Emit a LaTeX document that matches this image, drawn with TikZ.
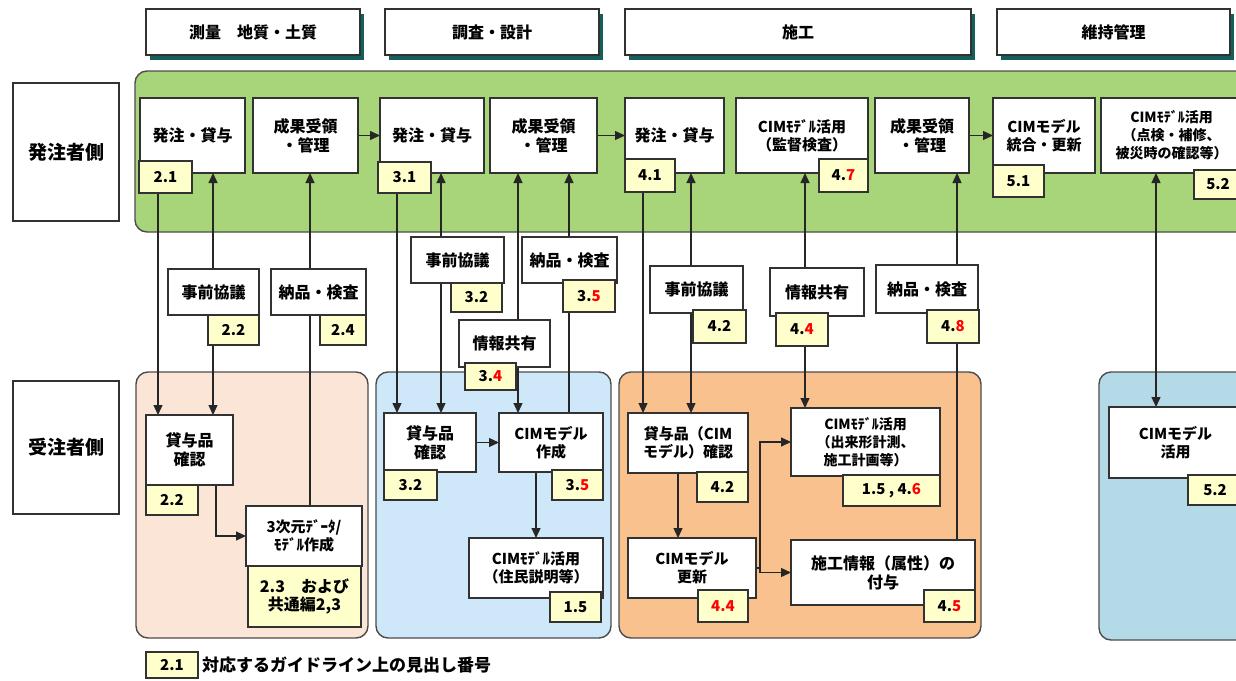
\documentclass[tikz,border=0pt]{standalone}
\usepackage{fontspec}
\setmainfont{Noto Sans CJK JP}
\usetikzlibrary{arrows.meta,shadows,calc}
\pgfdeclarelayer{bg}\pgfdeclarelayer{conn}
\pgfsetlayers{bg,conn,main}
\definecolor{greenband}{RGB}{168,212,122}
\definecolor{peach}{RGB}{251,229,214}
\definecolor{lblue}{RGB}{206,232,250}
\definecolor{orangebox}{RGB}{249,193,142}
\definecolor{rblue}{RGB}{180,218,232}
\definecolor{tagfill}{RGB}{255,255,204}
\definecolor{hdrshadow}{RGB}{20,95,90}
\definecolor{edge}{RGB}{50,50,50}
\newcommand\rd[1]{\textcolor{red}{#1}}
\newcommand\bx[7][wbox]{\node[#1, minimum width={(#5-#3)*1pt}, minimum height={(#6-#4)*1pt}] (#2) at (#3,#4) {#7};}
\tikzset{
  every node/.style={outer sep=0pt, inner sep=1pt},
  wbox/.style={draw=edge, fill=white, line width=1.4pt, align=center, anchor=north west,
    font=\fontsize{16}{19}\selectfont\bfseries},
  cbox/.style={wbox, font=\fontsize{15}{18}\selectfont\bfseries},
  side/.style={wbox, font=\fontsize{19}{22}\selectfont\bfseries},
  hdr/.style={wbox, drop shadow={shadow xshift=4pt, shadow yshift=-5pt, fill=hdrshadow, opacity=1}},
  tagbox/.style={draw=edge, fill=tagfill, line width=1.4pt, align=center, anchor=north west,
    font=\fontsize{15}{18}\selectfont\bfseries},
  region/.style={draw=black!70, line width=1.4pt, rounded corners=12pt},
  ln/.style={line width=1.3pt, draw=black!85},
  arr/.style={ln, -{Triangle[length=10pt,width=9pt]}},
  dbl/.style={ln, {Triangle[length=10pt,width=9pt]}-{Triangle[length=10pt,width=9pt]}},
}
\begin{document}
\begin{tikzpicture}[x=1pt,y=-1pt]
\useasboundingbox (0,0) rectangle (1236,680);
% regions
\begin{pgfonlayer}{bg}
\draw[region, fill=greenband] (135,71) rectangle (1262,232);
\draw[region, fill=peach] (136,372) rectangle (368,638);
\draw[region, fill=lblue] (376,372) rectangle (611,638);
\draw[region, fill=orangebox] (619,372) rectangle (981,638);
\draw[region, fill=rblue] (1099,372) rectangle (1262,640);
\end{pgfonlayer}
% headers
\bx[hdr]{h1}{146}{9}{360}{55}{測量\quad 地質・土質}
\bx[hdr]{h2}{385}{9}{599}{55}{調査・設計}
\bx[hdr]{h3}{625}{9}{971}{55}{施工}
\bx[hdr]{h4}{997}{9}{1230}{55}{維持管理}
% side labels
\bx[side]{s1}{13}{83}{119}{221}{発注者側}
\bx[side]{s2}{13}{381}{119}{514}{受注者側}
% top row
\bx{A1}{140}{98}{245}{173}{発注・貸与}
\bx{B1}{253}{98}{358}{173}{成果受領\\・管理}
\bx{A2}{380}{98}{484}{173}{発注・貸与}
\bx{B2}{490}{98}{597}{173}{成果受領\\・管理}
\bx{A3}{625}{98}{724}{173}{発注・貸与}
\bx[cbox]{C3}{736}{98}{868}{173}{CIMﾓﾃﾞﾙ活用\\（監督検査）}
\bx{B3}{875}{98}{969}{173}{成果受領\\・管理}
\bx[cbox]{D5}{993}{98}{1095}{173}{CIMモデル\\統合・更新}
\bx[cbox]{E5}{1101}{98}{1242}{173}{\fontsize{14}{18}\selectfont CIMﾓﾃﾞﾙ活用\\\fontsize{14}{18}\selectfont （点検・補修、\\\fontsize{14}{18}\selectfont 被災時の確認等）}
\bx[tagbox]{t21}{139}{161}{192}{193}{2.1}
\bx[tagbox]{t31}{378}{162}{431}{193}{3.1}
\bx[tagbox]{t41}{625}{159}{675}{192}{4.1}
\bx[tagbox]{t47}{819}{159}{868}{192}{4.\rd{7}}
\bx[tagbox]{t51}{993}{165}{1044}{197}{5.1}
\bx[tagbox]{t52}{1194}{170}{1242}{199}{5.2}
% middle labels
\bx{k1}{168}{269}{259}{315}{事前協議}
\bx[tagbox]{tk1}{208}{315}{259}{345}{2.2}
\bx{n1}{271}{269}{366}{315}{納品・検査}
\bx[tagbox]{tn1}{320}{315}{366}{345}{2.4}
\bx{k2}{411}{237}{504}{283}{事前協議}
\bx[tagbox]{tk2}{451}{283}{502}{312}{3.2}
\bx{n2}{522}{237}{617}{283}{納品・検査}
\bx[tagbox]{tn2}{563}{280}{615}{312}{3.\rd{5}}
\bx{i2}{459}{320}{550}{367}{情報共有}
\bx[tagbox]{ti2}{465}{363}{516}{390}{3.\rd{4}}
\bx{k3}{650}{266}{743}{313}{事前協議}
\bx[tagbox]{tk3}{693}{310}{746}{343}{4.2}
\bx{i3}{770}{268}{864}{316}{情報共有}
\bx[tagbox]{ti3}{776}{313}{828}{346}{4.\rd{4}}
\bx{n3}{876}{265}{978}{313}{納品・検査}
\bx[tagbox]{tn3}{927}{310}{979}{343}{4.\rd{8}}
% lower boxes
\bx{R1}{146}{415}{233}{485}{貸与品\\確認}
\bx[tagbox]{tr1}{146}{485}{198}{515}{2.2}
\bx[cbox]{D1}{246}{506}{362}{566}{3次元ﾃﾞｰﾀ/\\ﾓﾃﾞﾙ作成}
\bx[tagbox]{td1}{248}{566}{361}{627}{\fontsize{16}{21}\selectfont 2.3　および\\\fontsize{16}{21}\selectfont 共通編2,3}
\bx{R2}{384}{413}{476}{472}{貸与品\\確認}
\bx[tagbox]{tr2}{384}{470}{437}{500}{3.2}
\bx[cbox]{M2}{499}{413}{603}{472}{CIMモデル\\作成}
\bx[tagbox]{tm2}{552}{470}{603}{500}{3.\rd{5}}
\bx[cbox]{V2}{469}{538}{603}{598}{CIMﾓﾃﾞﾙ活用\\（住民説明等）}
\bx[tagbox]{tv2}{550}{592}{601}{622}{1.5}
\bx[cbox]{R3}{628}{413}{748}{473}{貸与品（CIM\\モデル）確認}
\bx[tagbox]{tr3}{697}{472}{748}{502}{4.2}
\bx[cbox]{G3}{628}{538}{756}{598}{CIMモデル\\更新}
\bx[tagbox]{tg3}{698}{590}{748}{622}{\rd{4.4}}
\bx[cbox]{U3}{791}{408}{940}{476}{\fontsize{14}{18}\selectfont CIMﾓﾃﾞﾙ活用\\\fontsize{14}{18}\selectfont （出来形計測、\\\fontsize{14}{18}\selectfont 施工計画等）}
\bx[tagbox]{tu3}{843}{475}{940}{506}{1.5 , 4.\rd{6}}
\bx{S3}{791}{540}{975}{605}{施工情報（属性）の\\付与}
\bx[tagbox]{ts3}{924}{590}{975}{622}{4.\rd{5}}
\bx[cbox]{R4}{1109}{407}{1242}{478}{CIMモデル\\活用}
\bx[tagbox]{tr4}{1188}{475}{1242}{505}{5.2}
% legend
\bx[tagbox]{tl}{146}{652}{198}{678}{2.1}
\node[anchor=west, font=\fontsize{17}{20}\selectfont\bfseries] (legend) at (201,665) {対応するガイドライン上の見出し番号};
% x positions of the vertical connectors
\coordinate (xa1) at (158,0);
\coordinate (xb1) at (213,0);
\coordinate (xc1) at (310,0);
\coordinate (xa2) at (397,0);
\coordinate (xb2) at (441,0);
\coordinate (xc2) at (518,0);
\coordinate (xd2) at (569,0);
\coordinate (xa3) at (643,0);
\coordinate (xb3) at (691,0);
\coordinate (xc3) at (805,0);
\coordinate (xd3) at (957,0);
\coordinate (xe) at (1156,0);
\coordinate (xr1) at (216,0);
\coordinate (xr3) at (678,0);
\coordinate (br) at (760,568);
\begin{pgfonlayer}{conn}
% top row flow
\draw[arr] (B1.east) -- (A2.west);
\draw[arr] (B2.east) -- (A3.west);
\draw[arr] (B3.east) -- (D5.west);
% column 1
\draw[arr] (t21.south -| xa1) -- (R1.north -| xa1);
\draw[dbl] (A1.south -| xb1) -- (R1.north -| xb1);
\draw[arr] (D1.north -| xc1) -- (B1.south -| xc1);
\draw[arr] (R1.south -| xr1) |- (D1.west);
% column 2
\draw[arr] (t31.south -| xa2) -- (R2.north -| xa2);
\draw[dbl] (A2.south -| xb2) -- (R2.north -| xb2);
\draw[dbl] (B2.south -| xc2) -- (M2.north -| xc2);
\draw[arr] (M2.north -| xd2) -- (B2.south -| xd2);
\draw[arr] (R2.east) -- (M2.west);
\draw[arr] (M2.south -| V2.north) -- (V2.north);
% column 3
\draw[arr] (t41.south -| xa3) -- (R3.north -| xa3);
\draw[dbl] (A3.south -| xb3) -- (R3.north -| xb3);
\draw[dbl] (C3.south -| xc3) -- (U3.north -| xc3);
\draw[arr] (S3.north -| xd3) -- (B3.south -| xd3);
\draw[arr] (R3.south -| xr3) -- (G3.north -| xr3);
\draw[ln] (G3.east) -- (br);
\draw[arr] (br) |- (U3.west);
\draw[arr] (br) |- (S3.west);
% column 4
\draw[dbl] (E5.south -| xe) -- (R4.north -| xe);
\end{pgfonlayer}
\end{tikzpicture}
\end{document}
